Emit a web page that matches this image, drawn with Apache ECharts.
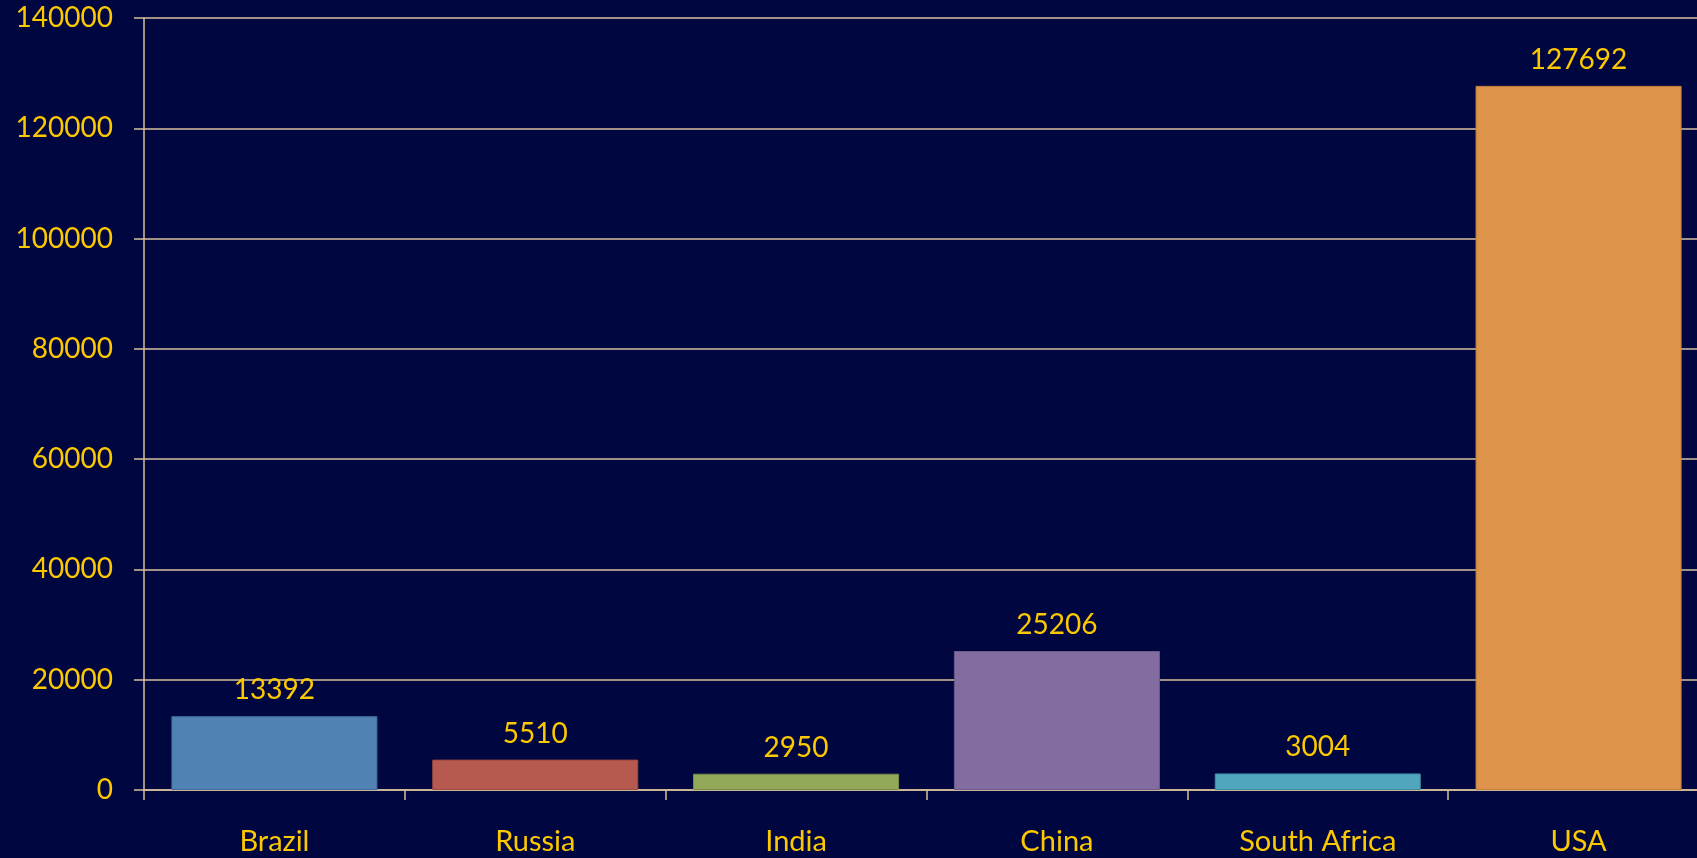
<!DOCTYPE html>
<html>
<head>
<meta charset="utf-8">
<script src="https://cdn.jsdelivr.net/npm/echarts@6/dist/echarts.min.js"></script>
<style>
  html, body { margin: 0; padding: 0; background: #000640; overflow: hidden; }
  /* canvas is a bit wider than the window so the plot area runs off the right edge */
  #chart { width: 1712px; height: 858px; }
</style>
</head>
<body>
<div id="chart"></div>
<script>
// Countries along the x axis
const countries = ['Brazil', 'Russia', 'India', 'China', 'South Africa', 'USA'];
// Value per country
const values = [13392, 5510, 2950, 25206, 3004, 127692];
// Fill colour per bar
const barColors = ['#5182b4', '#b65a50', '#92a95a', '#826ca0', '#4fa6bd', '#df944c'];
const borderColors = ['#3f6c9c', '#9a4a42', '#7a8e4a', '#6c5a88', '#3f8ca2', '#c27f40'];
// Y axis range
const yMin = 0, yMax = 140000, yStep = 20000;

const txt = '#fcc800';
const lineCol = '#d8c19c';
const font = 'Lato, "Open Sans", sans-serif';

const chart = echarts.init(document.getElementById('chart'), null, { renderer: 'canvas' });
chart.setOption({
  backgroundColor: '#000640',
  animation: false,
  grid: { left: 144, top: 18, bottom: 68, right: 3, containLabel: false },
  xAxis: {
    type: 'category',
    data: countries,
    boundaryGap: true,
    axisLine: { show: true, lineStyle: { color: lineCol, width: 1.5 } },
    axisTick: { show: true, alignWithLabel: false, length: 10, lineStyle: { color: lineCol, width: 1.5 } },
    axisLabel: { color: txt, fontFamily: font, fontSize: 29, margin: 37, interval: 0 },
    splitLine: { show: false }
  },
  yAxis: {
    type: 'value',
    min: yMin, max: yMax, interval: yStep,
    axisLine: { show: true, lineStyle: { color: lineCol, width: 1.5 } },
    axisTick: { show: true, length: 10, lineStyle: { color: lineCol, width: 1.5 } },
    axisLabel: { color: txt, fontFamily: font, fontSize: 28, margin: 31, formatter: v => String(v) },
    splitLine: { show: true, lineStyle: { color: lineCol, width: 1.5 } }
  },
  series: [{
    type: 'bar',
    barCategoryGap: '21%',
    data: values.map((v, i) => ({
      value: v,
      itemStyle: { color: barColors[i], borderColor: borderColors[i], borderWidth: 1 }
    })),
    label: {
      show: true, position: 'top', distance: 12,
      color: txt, fontFamily: font, fontSize: 28
    }
  }]
});
</script>
</body>
</html>
